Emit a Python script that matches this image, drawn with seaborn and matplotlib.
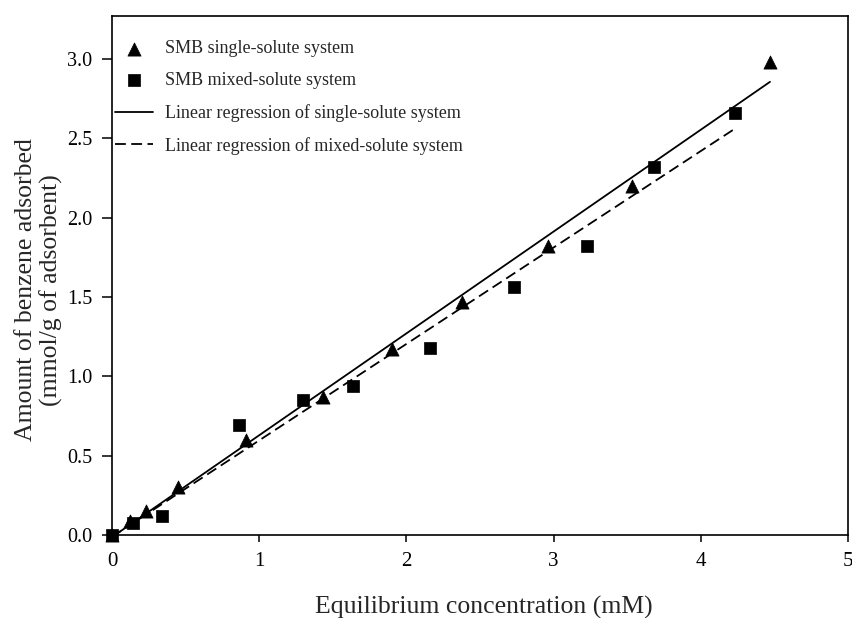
import numpy as np
import pandas as pd
import matplotlib
matplotlib.use("Agg")
import matplotlib.pyplot as plt
import seaborn as sns

# Equilibrium concentration (mM) and amount adsorbed (mmol/g)
single_x = [0.0, 0.12, 0.23, 0.45, 0.91, 1.43, 1.90, 2.38, 2.96, 3.53, 4.47]
single_y = [0.0, 0.09, 0.15, 0.30, 0.60, 0.87, 1.17, 1.47, 1.82, 2.20, 2.98]
mixed_x = [0.0, 0.14, 0.34, 0.86, 1.30, 1.64, 2.16, 2.73, 3.23, 3.68, 4.23]
mixed_y = [0.0, 0.076, 0.12, 0.69, 0.85, 0.94, 1.18, 1.56, 1.82, 2.32, 2.66]

x_ticks = [0, 1, 2, 3, 4, 5]
y_ticks = [0.0, 0.5, 1.0, 1.5, 2.0, 2.5, 3.0]

label_single = "SMB single-solute system"
label_mixed = "SMB mixed-solute system"
label_fit_single = "Linear regression of single-solute system"
label_fit_mixed = "Linear regression of mixed-solute system"

sns.set_theme(style="ticks")
plt.rcParams["font.family"] = ["Liberation Serif", "DejaVu Serif"]
plt.rcParams["mathtext.fontset"] = "stix"

single = pd.DataFrame({"x": single_x, "y": single_y})
mixed = pd.DataFrame({"x": mixed_x, "y": mixed_y})

fig = plt.figure(figsize=(8.52, 6.18), dpi=100)
ax = fig.add_axes([0.1315, 0.1343, 0.8638, 0.8398])

# regression lines over each data range
sns.regplot(data=single, x="x", y="y", ax=ax, ci=None, scatter=False,
            truncate=True, color="black", line_kws=dict(lw=1.3, ls="-"))
fit_single_line = ax.lines[-1]
sns.regplot(data=mixed, x="x", y="y", ax=ax, ci=None, scatter=False,
            truncate=True, color="black", line_kws=dict(lw=1.3, dashes=(6, 3)))
fit_mixed_line = ax.lines[-1]

# measured points
sns.scatterplot(data=single, x="x", y="y", ax=ax, marker="^", s=90,
                color="black", edgecolor="black", linewidth=0.5,
                zorder=3, clip_on=False)
single_pts = ax.collections[-1]
sns.scatterplot(data=mixed, x="x", y="y", ax=ax, marker="s", s=75,
                color="black", edgecolor="black", linewidth=0.5,
                zorder=3, clip_on=False)
mixed_pts = ax.collections[-1]

ax.set_xlim(0, 5)
ax.set_ylim(0, 3.27)
ax.set_xticks(x_ticks)
ax.set_xticklabels([str(t) for t in x_ticks])
ax.set_yticks(y_ticks)
ax.set_yticklabels([f"{t:.1f}" for t in y_ticks])

for side in ["top", "right", "left", "bottom"]:
    ax.spines[side].set_visible(True)
    ax.spines[side].set_color("black")
    ax.spines[side].set_linewidth(1.2)

ax.tick_params(axis="both", direction="out", width=1.1, colors="black",
               top=False, right=False)
ax.tick_params(axis="x", length=5, pad=7, labelsize=15)
ax.tick_params(axis="y", length=7, pad=7, labelsize=14.5)

ax.set_xlabel("Equilibrium concentration (mM)", fontsize=18.5)
ax.set_ylabel("Amount of benzene adsorbed\n(mmol/g of adsorbent)",
              fontsize=18.5, linespacing=1.12)
ax.xaxis.set_label_coords(0.505, -0.118)
ax.yaxis.set_label_coords(-0.067, 0.472)

ax.legend([single_pts, mixed_pts, fit_single_line, fit_mixed_line],
          [label_single, label_mixed, label_fit_single, label_fit_mixed],
          loc="upper left", bbox_to_anchor=(0.004, 0.953), frameon=False,
          fontsize=13, handlelength=2.1, handletextpad=0.65,
          labelspacing=0.82, borderpad=0, borderaxespad=0)

fig.savefig("out.png", dpi=100)
